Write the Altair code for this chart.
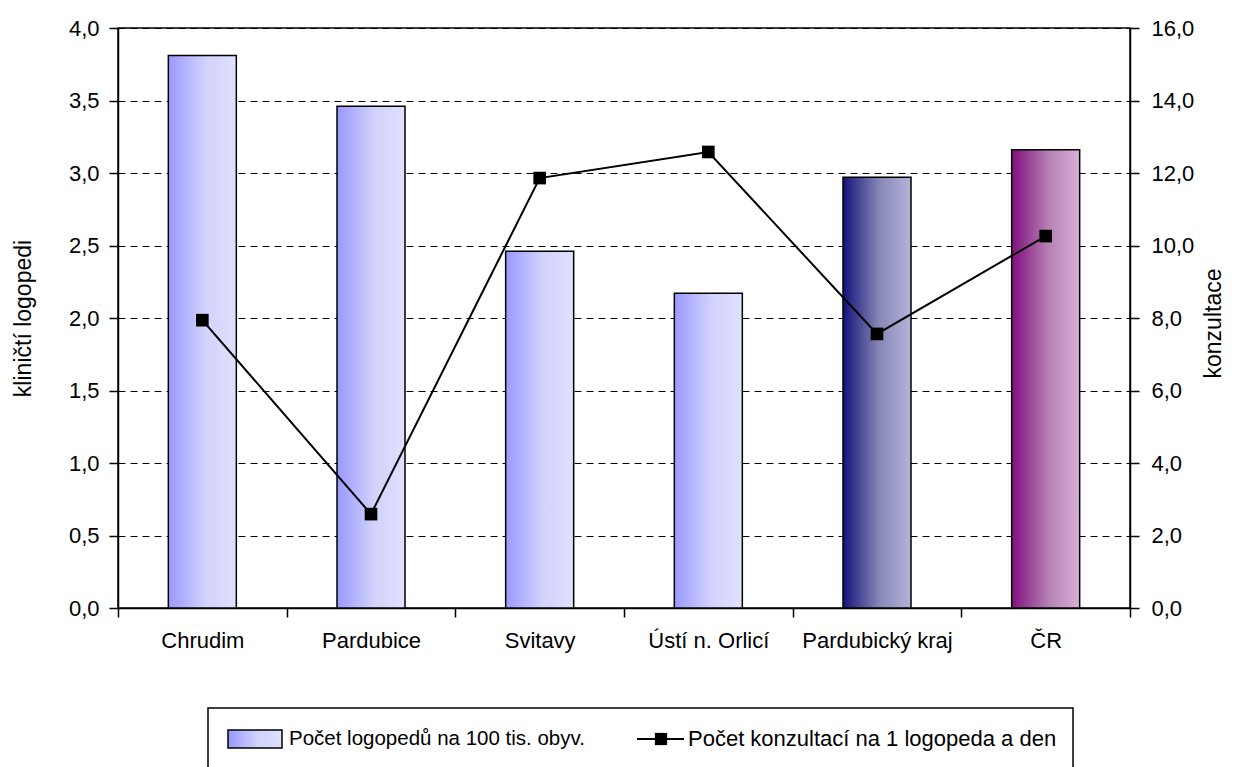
import altair as alt
import pandas as pd

categories = ["Chrudim", "Pardubice", "Svitavy", "Ústí n. Orlicí", "Pardubický kraj", "ČR"]
logopedi = [3.81, 3.46, 2.46, 2.17, 2.97, 3.16]
konzultace = [7.94, 2.59, 11.86, 12.58, 7.56, 10.26]
groups = ["okres", "okres", "okres", "okres", "kraj", "cr"]

legend_bar = "Počet logopedů na 100 tis. obyv."
legend_line = "Počet konzultací na 1 logopeda a den"

FONT = "Liberation Sans"
FS = 22
W, H = 1012, 580

df = pd.DataFrame({"kat": categories, "log": logopedi, "kon": konzultace, "grp": groups})


def grad(c0, cm, c1):
    return alt.Gradient(
        gradient="linear",
        stops=[
            alt.GradientStop(color=c0, offset=0),
            alt.GradientStop(color=cm, offset=0.55),
            alt.GradientStop(color=c1, offset=1),
        ],
        x1=0, x2=1, y1=0, y2=0,
    )


fills = {
    "okres": grad("#9999ff", "#d2d2fc", "#e0e0ff"),
    "kraj": grad("#14147a", "#8a8ab8", "#b2b2da"),
    "cr": grad("#80107e", "#b682b4", "#dab0da"),
}

xenc = alt.X(
    "kat:N",
    sort=categories,
    scale=alt.Scale(domain=categories, paddingInner=0, paddingOuter=0),
    axis=alt.Axis(
        title=None, labelAngle=0, labelFont=FONT, labelFontSize=FS, labelColor="black",
        domainColor="black", domainWidth=1.5, tickColor="black", tickWidth=1.5,
        tickSize=9, tickBand="extent", labelPadding=13, labelBaseline="top",
    ),
)

yleft = alt.Y(
    "log:Q",
    scale=alt.Scale(domain=[0, 4], nice=False),
    axis=alt.Axis(
        title="kliničtí logopedi", titleFont=FONT, titleFontSize=23, titleFontWeight="normal",
        titleColor="black", titleAngle=270, titleX=-95, titleY=290, titleBaseline="middle",
        titleAlign="center",
        values=[0, 0.5, 1, 1.5, 2, 2.5, 3, 3.5, 4], labelExpr="replace(format(datum.value, '.1f'), '.', ',')",
        labelFont=FONT, labelFontSize=FS, labelColor="black", labelPadding=10,
        domainColor="black", domainWidth=1.5, tickColor="black", tickWidth=1.5, tickSize=9,
        grid=True, gridColor="black", gridDash=[7, 5], gridWidth=1,
    ),
)

bar_layers = []
for g in ["okres", "kraj", "cr"]:
    bar_layers.append(
        alt.Chart(df)
        .transform_filter(alt.datum.grp == g)
        .mark_bar(size=68, fill=fills[g], stroke="black", strokeWidth=1.5)
        .encode(x=xenc, y=yleft)
    )
bars = alt.layer(*bar_layers)

yright = alt.Y(
    "kon:Q",
    scale=alt.Scale(domain=[0, 16], nice=False),
    axis=alt.Axis(
        orient="right", title="konzultace", titleFont=FONT, titleFontSize=23,
        titleFontWeight="normal", titleColor="black", titleAngle=270, titleX=83, titleY=295,
        titleBaseline="middle", titleAlign="center",
        values=[0, 2, 4, 6, 8, 10, 12, 14, 16], labelExpr="replace(format(datum.value, '.1f'), '.', ',')",
        labelFont=FONT, labelFontSize=FS, labelColor="black", labelPadding=12,
        domainColor="black", domainWidth=1.5, tickColor="black", tickWidth=1.5, tickSize=9,
        grid=False,
    ),
)

line = alt.Chart(df).mark_line(color="black", strokeWidth=2).encode(x=xenc, y=yright)
pts = alt.Chart(df).mark_point(shape="square", size=160, filled=True, color="black", opacity=1).encode(
    x=xenc, y=yright
)
line_layer = alt.layer(line, pts)

# legend (decorative)
one = pd.DataFrame({"a": [legend_bar], "b": [legend_line]})
leg_box = alt.Chart(one).mark_rect(fill="white", stroke="black", strokeWidth=1.5).encode(
    x=alt.value(90), x2=alt.value(955), y=alt.value(680), y2=alt.value(790)
)
leg_sw = alt.Chart(one).mark_rect(fill=fills["okres"], stroke="black", strokeWidth=1.5).encode(
    x=alt.value(110), x2=alt.value(164), y=alt.value(702), y2=alt.value(720)
)
leg_t1 = alt.Chart(one).mark_text(align="left", baseline="middle", font=FONT, fontSize=20.5, color="black").encode(
    x=alt.value(171), y=alt.value(711), text="a:N"
)
leg_ln = alt.Chart(one).mark_rule(color="black", strokeWidth=2).encode(
    x=alt.value(519), x2=alt.value(566), y=alt.value(711)
)
leg_pt = alt.Chart(one).mark_point(shape="square", size=150, filled=True, color="black", opacity=1).encode(
    x=alt.value(543), y=alt.value(711)
)
leg_t2 = alt.Chart(one).mark_text(align="left", baseline="middle", font=FONT, fontSize=FS, color="black").encode(
    x=alt.value(570), y=alt.value(711), text="b:N"
)
legend = alt.layer(leg_box, leg_sw, leg_t1, leg_ln, leg_pt, leg_t2)

chart = (
    alt.layer(bars, line_layer, legend)
    .resolve_scale(y="independent")
    .properties(
        width=W, height=H,
        autosize=alt.AutoSizeParams(type="none"),
        padding={"left": 110, "top": 20, "right": 96, "bottom": 160},
        background="white",
    )
    .configure_view(stroke="black", strokeWidth=1.5)
)

chart.save("out.html", embed_options={"renderer": "svg", "actions": False})
